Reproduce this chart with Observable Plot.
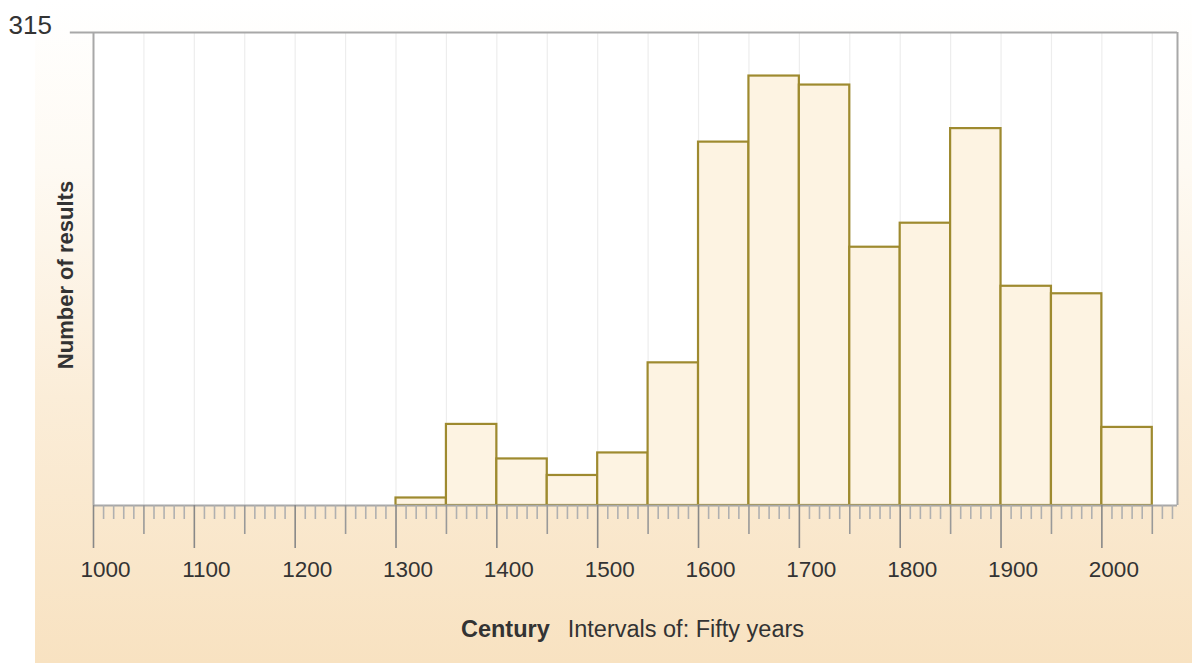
<!DOCTYPE html>
<html>
<head>
<meta charset="utf-8">
<script src="https://cdn.jsdelivr.net/npm/d3@7"></script>
<script src="https://cdn.jsdelivr.net/npm/@observablehq/plot@0.6"></script>
<style>
  html, body { margin: 0; padding: 0; background: #fff; }
  #wrap { position: relative; width: 1192px; height: 663px; overflow: hidden; font-family: "Liberation Sans", Arial, sans-serif; }
  #bg { position: absolute; left: 35px; top: 0; right: 0; bottom: 0;
        background: linear-gradient(to bottom, #ffffff 0%, #fefaf3 25%, #fbedd8 60%, #f8e2c1 100%); }
  #chart { position: absolute; left: 0; top: 0; }
  #caption { position: absolute; left: 0; width: 1265px; top: 615px; text-align: center; font-size: 23.5px; line-height: 28px; color: #333; }
  #caption b { margin-right: 18px; }
</style>
</head>
<body>
<div id="wrap">
  <div id="bg"></div>
  <div id="chart"></div>
  <div id="caption"><b>Century</b>Intervals of: Fifty years</div>
</div>
<script>
// Data: 50-year bins
const binStarts = [1300, 1350, 1400, 1450, 1500, 1550, 1600, 1650, 1700, 1750, 1800, 1850, 1900, 1950, 2000];
const counts    = [5, 54, 31, 20, 35, 95, 242, 286, 280, 172, 188, 251, 146, 141, 52];
const binWidth = 50;
const majorTicks = [1000, 1100, 1200, 1300, 1400, 1500, 1600, 1700, 1800, 1900, 2000];
const tickLabels = ["1000", "1100", "1200", "1300", "1400", "1500", "1600", "1700", "1800", "1900", "2000"];
const midTicks = [1050, 1150, 1250, 1350, 1450, 1550, 1650, 1750, 1850, 1950, 2050];
const gridLines = [1050, 1100, 1150, 1200, 1250, 1300, 1350, 1400, 1450, 1500, 1550, 1600, 1650, 1700, 1750, 1800, 1850, 1900, 1950, 2000, 2050];
const xDomain = [1000, 2075];
const yMax = 315;

const bars = binStarts.map((s, i) => ({x1: s, x2: s + binWidth, y: counts[i]}));
const minorTicks = d3.range(xDomain[0], xDomain[1] + 1, 10).filter(v => v % 50 !== 0);
const labels = majorTicks.map((v, i) => ({x: v, label: tickLabels[i]}));
const noLabel = () => "";

const frameColor = "#a8a8a8";
const plot = Plot.plot({
  width: 1192,
  height: 600,
  marginLeft: 93,
  marginRight: 15,
  marginTop: 32,
  marginBottom: 95,
  style: {background: "transparent", fontFamily: "Liberation Sans, Arial, sans-serif", color: "#333"},
  x: {type: "linear", domain: xDomain, axis: null},
  y: {type: "linear", domain: [0, yMax], axis: null},
  marks: [
    Plot.frame({fill: "white", stroke: "none"}),
    Plot.ruleX(gridLines, {stroke: "#ededed", strokeWidth: 1.2}),
    Plot.rectY(bars, {x1: "x1", x2: "x2", y: "y", fill: "#fdf3e2", stroke: "#9e8a2f", strokeWidth: 2.2}),
    // frame
    Plot.ruleY([yMax], {x1: 977, x2: xDomain[1], stroke: frameColor, strokeWidth: 2}),
    Plot.ruleX([xDomain[0], xDomain[1]], {y1: 0, y2: yMax, stroke: frameColor, strokeWidth: 2}),
    Plot.ruleY([0], {x1: xDomain[0], x2: xDomain[1], stroke: frameColor, strokeWidth: 2}),
    // ticks
    Plot.axisX(minorTicks, {tickSize: 14, tickFormat: noLabel, stroke: "#b0b0b0", strokeWidth: 1.6, label: null}),
    Plot.axisX(midTicks, {tickSize: 29, tickFormat: noLabel, stroke: "#999", strokeWidth: 1.6, label: null}),
    Plot.axisX(majorTicks, {tickSize: 43, tickFormat: noLabel, stroke: "#888", strokeWidth: 1.6, label: null}),
    Plot.text(labels, {x: "x", text: "label", frameAnchor: "bottom", dx: 12, dy: 71, fontSize: 22.5, fill: "#333"}),
    // top value label
    Plot.text([yMax], {x: xDomain[0], y: d => d, text: d => String(d), textAnchor: "start", dx: -85, dy: -7, fontSize: 26, fill: "#333"}),
    // y label
    Plot.text(["Number of results"], {frameAnchor: "left", textAnchor: "middle", dx: -28, dy: 6, rotate: -90, fontSize: 22, fontWeight: "bold", fill: "#333"})
  ]
});
document.getElementById("chart").appendChild(plot);
</script>
</body>
</html>
